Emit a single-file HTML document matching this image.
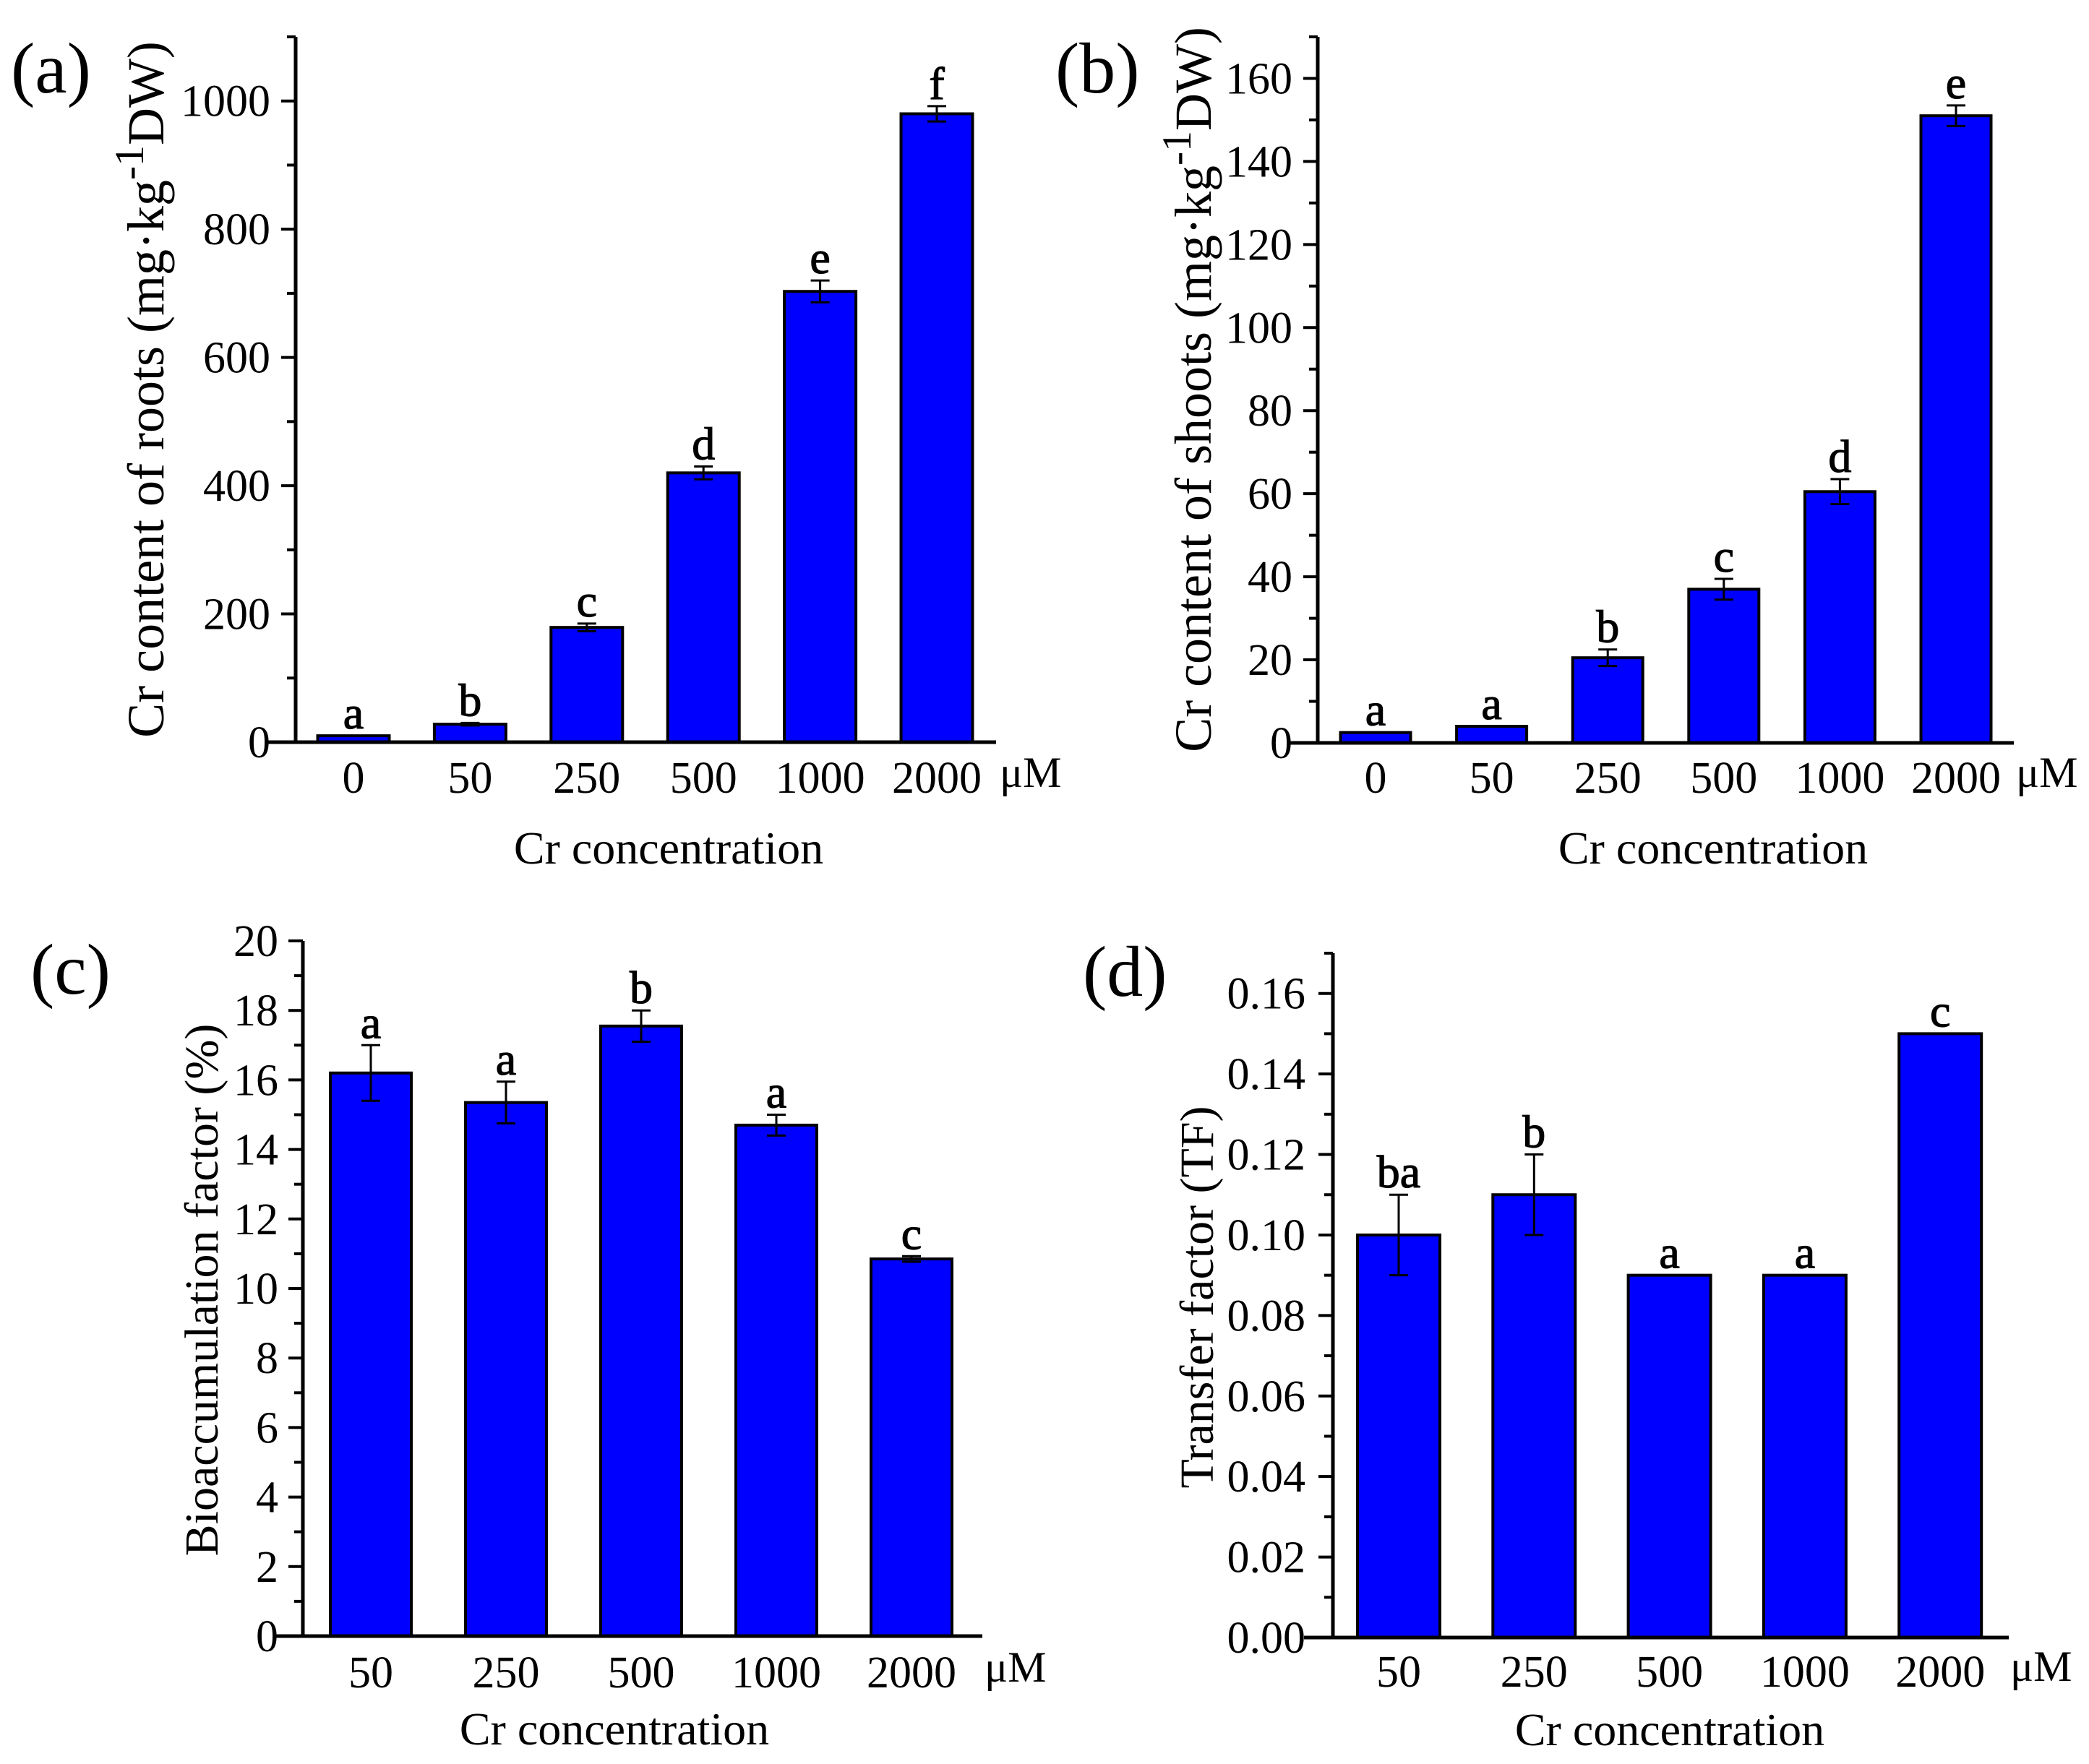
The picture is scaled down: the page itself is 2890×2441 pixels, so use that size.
<!DOCTYPE html>
<html><head><meta charset="utf-8"><style>
html,body{margin:0;padding:0;background:#fff}
svg{display:block}
text{font-family:"Liberation Serif",serif;fill:#000}
</style></head><body>
<svg id="chart" width="2890" height="2441" viewBox="0 0 2890 2441" xmlns="http://www.w3.org/2000/svg"></svg>
<script>
// Panel (a) data
const catsA = ["0","50","250","500","1000","2000"];
const valsA = [10, 28, 179, 420, 703, 980];
const errsA = [0, 2, 6, 10, 17, 12];
const letsA = ["a","b","c","d","e","f"];
const ticksA = [0,200,400,600,800,1000];
// Panel (b) data
const catsB = ["0","50","250","500","1000","2000"];
const valsB = [2.5, 4, 20.5, 37, 60.5, 151];
const errsB = [0, 0, 2, 2.5, 3, 2.5];
const letsB = ["a","a","b","c","d","e"];
const ticksB = [0,20,40,60,80,100,120,140,160];
// Panel (c) data
const catsC = ["50","250","500","1000","2000"];
const valsC = [16.2, 15.35, 17.55, 14.7, 10.85];
const errsC = [0.8, 0.6, 0.45, 0.3, 0.08];
const letsC = ["a","a","b","a","c"];
const ticksC = [0,2,4,6,8,10,12,14,16,18,20];
// Panel (d) data
const catsD = ["50","250","500","1000","2000"];
const valsD = [0.10, 0.11, 0.09, 0.09, 0.15];
const errsD = [0.01, 0.01, 0, 0, 0];
const letsD = ["ba","b","a","a","c"];
const ticksD = [0,0.02,0.04,0.06,0.08,0.10,0.12,0.14,0.16];

const NS="http://www.w3.org/2000/svg";
const svg=document.getElementById('chart');
function mk(tag,attrs,parent,txt){const e=document.createElementNS(NS,tag);for(const k in attrs)e.setAttribute(k,attrs[k]);if(txt!==undefined)e.textContent=txt;(parent||svg).appendChild(e);return e;}

function panel(cfg){
  const g=mk('g',{});
  
  
  const y=v=>cfg.y0-(v-0)/(cfg.ymax)*(cfg.y0-cfg.ytop);
  const x=i=>cfg.c0+i*cfg.step;
  cfg.vals.forEach((v,i)=>{
    const r=mk('rect',{x:x(i)-cfg.bw/2,y:y(v),width:cfg.bw,height:cfg.y0-y(v),fill:'#0000ff',stroke:'#000','stroke-width':4},g);
    
    
    const e=cfg.errs[i];
    let topY=y(v);
    if(e>0){
      const eg=mk('g',{stroke:'#000','stroke-width':3},g);
      
      
      mk('line',{x1:x(i),x2:x(i),y1:y(v-e),y2:y(v+e)},eg);
      mk('line',{x1:x(i)-13,x2:x(i)+13,y1:y(v-e),y2:y(v-e)},eg);
      mk('line',{x1:x(i)-13,x2:x(i)+13,y1:y(v+e),y2:y(v+e)},eg);
      topY=y(v+e);
    }
    const t=mk('text',{x:x(i),y:topY-10,'font-size':64,stroke:'#000','stroke-width':1.2,'text-anchor':'middle'},g,cfg.lets[i]);
    
    
    const tl=mk('text',{x:x(i),y:cfg.xlabY,'font-size':62,'text-anchor':'middle'},g,cfg.cats[i]);
    
    
  });
  const ax=mk('g',{stroke:'#000','stroke-width':4},g);
  
  
  for(let k=0;k<cfg.ticks.length;k++){
    const v=cfg.ticks[k];
    mk('line',{x1:cfg.ax-20,x2:cfg.ax,y1:y(v),y2:y(v)},ax);
    const mv=v+cfg.minor;
    if(mv<=cfg.ymax+1e-9) mk('line',{x1:cfg.ax-12,x2:cfg.ax,y1:y(mv),y2:y(mv)},ax);
    const tt=mk('text',{x:cfg.tlx,y:y(v)+21,'font-size':62,'text-anchor':'end',stroke:'none'},g,cfg.fmt(v));
    
    
  }
  mk('line',{x1:cfg.ax,x2:cfg.ax,y1:cfg.ytop,y2:cfg.y0+2.5,'stroke-width':5},ax);
  const xa=mk('line',{x1:cfg.ax-40,x2:cfg.xend,y1:cfg.y0,y2:cfg.y0,stroke:'#000','stroke-width':5},g);
  
  
  const um=mk('text',{x:cfg.umx,y:cfg.xlabY-8,'font-size':60},g,'μM');
  
  
  const xt=mk('text',{x:cfg.xtx,y:cfg.xtY,'font-size':64,'text-anchor':'middle'},g,'Cr concentration');
  
  
  const yt=mk('text',{x:0,y:0,'font-size':cfg.ytfs,'text-anchor':'middle',transform:`translate(${cfg.ytx+cfg.ytfs*0.35},${cfg.ytc}) rotate(-90)`},g);
  
  
  if(cfg.sup){
    mk('tspan',{},yt,cfg.ytitle[0]);
    mk('tspan',{dy:-28,'font-size':cfg.ytfs*0.8},yt,'-1');
    mk('tspan',{dy:28},yt,cfg.ytitle[1]);
  } else yt.textContent=cfg.ytitle;
  const pl=mk('text',{x:cfg.plx,y:cfg.ply,'font-size':100},g,'('+cfg.id+')');
  
  
}
const f0=v=>String(v), f2=v=>v.toFixed(2);
panel({id:'a',cats:catsA,vals:valsA,errs:errsA,lets:letsA,ticks:ticksA,minor:100,ymax:1100,fmt:f0,
  ax:409,y0:1027,ytop:51,xend:1378,c0:489,step:161.4,bw:99,tlx:374,xlabY:1097,umx:1383,xtx:925,xtY:1195,
  ytx:201,ytc:539,ytfs:72,sup:true,ytitle:['Cr content of roots (mg·kg','DW)'],plx:15,ply:128});
panel({id:'b',cats:catsB,vals:valsB,errs:errsB,lets:letsB,ticks:ticksB,minor:10,ymax:170,fmt:f0,
  ax:1823,y0:1028,ytop:51,xend:2786,c0:1903,step:160.6,bw:97,tlx:1788,xlabY:1097,umx:2789,xtx:2370,xtY:1195,
  ytx:1650,ytc:539,ytfs:72,sup:true,ytitle:['Cr content of shoots (mg·kg','DW)'],plx:1460,ply:128});
panel({id:'c',cats:catsC,vals:valsC,errs:errsC,lets:letsC,ticks:ticksC,minor:1,ymax:20,fmt:f0,
  ax:419,y0:2264,ytop:1302,xend:1359,c0:513,step:187,bw:112,tlx:385,xlabY:2335,umx:1362,xtx:850,xtY:2414,
  ytx:278,ytc:1785,ytfs:66,sup:false,ytitle:'Bioaccumulation factor (%)',plx:42,ply:1375});
panel({id:'d',cats:catsD,vals:valsD,errs:errsD,lets:letsD,ticks:ticksD,minor:0.01,ymax:0.17,fmt:f2,
  ax:1844,y0:2266,ytop:1319,xend:2779,c0:1935,step:187.3,bw:114,tlx:1806,xlabY:2334,umx:2781,xtx:2310,xtY:2415,
  ytx:1655,ytc:1795,ytfs:66,sup:false,ytitle:'Transfer factor (TF)',plx:1498,ply:1378});
</script>
</body></html>
